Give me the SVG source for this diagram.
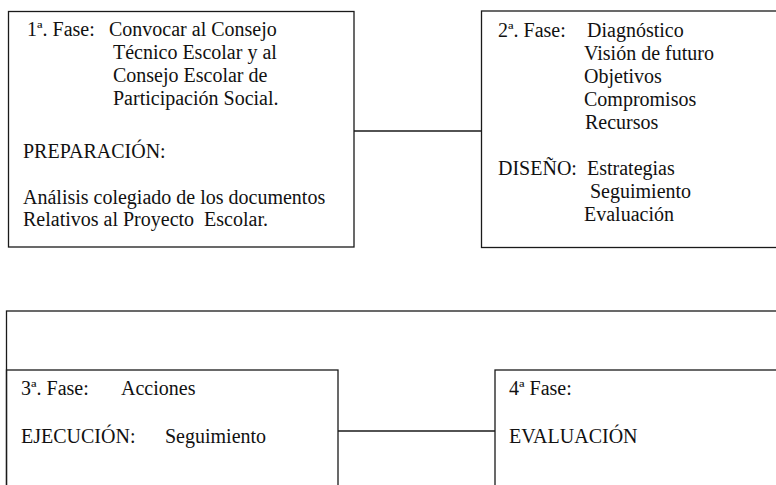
<svg xmlns="http://www.w3.org/2000/svg" width="776" height="485" viewBox="0 0 776 485">
<style>
.box{fill:none;stroke:#1a1a1a;stroke-width:1.3}
.ln{fill:none;stroke:#1a1a1a;stroke-width:1.3}
text{font-family:"Liberation Serif","Times New Roman",serif;font-size:20px;fill:#111}
</style>
<rect width="776" height="485" fill="#fff"/>
<g id="outer-frame">
<rect class="box" x="6.5" y="311" width="800" height="200"/>
</g>
<g id="phase1">
<rect class="box" x="8.5" y="11.5" width="345.5" height="235.5"/>
<text x="27" y="36">1ª. Fase:</text>
<text x="109" y="36">Convocar al Consejo</text>
<text x="113" y="59">Técnico Escolar y al</text>
<text x="113" y="82">Consejo Escolar de</text>
<text x="113" y="105">Participación Social.</text>
<text x="23" y="158">PREPARACIÓN:</text>
<text x="23" y="204">Análisis colegiado de los documentos</text>
<text x="23" y="226">Relativos al Proyecto&#160; Escolar.</text>
</g>
<g id="phase2">
<rect class="box" x="481.5" y="11" width="320" height="236.5"/>
<text x="498" y="37">2ª. Fase:</text>
<text x="587" y="37">Diagnóstico</text>
<text x="584" y="60">Visión de futuro</text>
<text x="584" y="83">Objetivos</text>
<text x="584" y="106">Compromisos</text>
<text x="585" y="129">Recursos</text>
<text x="498" y="175">DISEÑO:</text>
<text x="587" y="175">Estrategias</text>
<text x="590" y="198">Seguimiento</text>
<text x="584" y="221">Evaluación</text>
</g>
<g id="phase3">
<rect class="box" x="6.5" y="370" width="331.5" height="140"/>
<text x="21" y="395">3ª. Fase:</text>
<text x="121" y="395">Acciones</text>
<text x="21" y="443">EJECUCIÓN:</text>
<text x="165" y="443">Seguimiento</text>
</g>
<g id="phase4">
<rect class="box" x="495" y="370" width="320" height="140"/>
<text x="509" y="395">4ª Fase:</text>
<text x="509" y="443">EVALUACIÓN</text>
</g>
<g id="connectors">
<line class="ln" x1="354" y1="131" x2="481.5" y2="131"/>
<line class="ln" x1="338" y1="431" x2="495" y2="431"/>
</g>
</svg>
